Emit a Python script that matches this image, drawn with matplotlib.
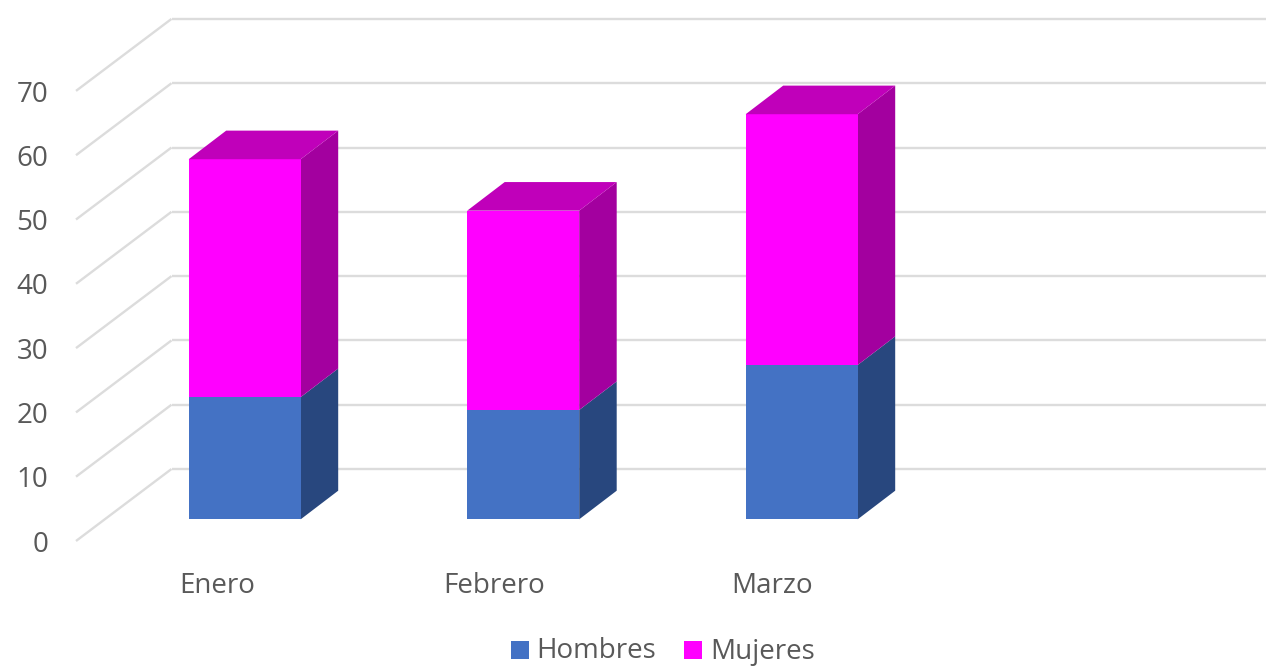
import matplotlib.pyplot as plt
from matplotlib.patches import Polygon, Rectangle

plt.rcParams['font.family'] = ['Open Sans', 'DejaVu Sans']

meses = ["Enero", "Febrero", "Marzo"]
hombres = [19, 17, 24]
mujeres = [37, 31, 39]
ticks = [0, 10, 20, 30, 40, 50, 60, 70]

fig = plt.figure(figsize=(12.66, 6.66), dpi=100)
ax = fig.add_axes([0, 0, 1, 1])

# x is in pixels, y is the value measured on the back wall
px = 6.43
ax.set_xlim(0, 1266)
ax.set_ylim(-(666 - 469)/px, 469/px)
ax.axis("off")

wall_x = 171.5
floor_dx = 95.5
floor_dy = 72/px
bar_dx = 37.5
bar_dy = 28.6/px
bar_shift = 21.7/px   # front of the bars above the floor front edge
bar_w = 112
bar_x = [188.7, 467.2, 745.7]

grid = "#dcdcdc"
text = "#595959"
fs = 20

for t in ticks:
    ax.plot([wall_x - floor_dx, wall_x], [t - floor_dy, t], color=grid, lw=1.7, solid_capstyle="butt", zorder=1)
    ax.plot([wall_x, 1266], [t, t], color=grid, lw=1.7, solid_capstyle="butt", zorder=1)
    ax.text(48, t - floor_dy - 0.57, str(t), color=text, fontsize=fs, ha="right", va="center")


def box(x, v0, v1, front, side, top=None):
    y0 = v0 - floor_dy + bar_shift
    y1 = v1 - floor_dy + bar_shift
    ax.add_patch(Rectangle((x, y0), bar_w, y1 - y0, fc=front, ec="none", zorder=3))
    ax.add_patch(Polygon([(x + bar_w, y0), (x + bar_w + bar_dx, y0 + bar_dy),
                          (x + bar_w + bar_dx, y1 + bar_dy), (x + bar_w, y1)],
                         fc=side, ec="none", zorder=2.5))
    if top:
        ax.add_patch(Polygon([(x, y1), (x + bar_dx, y1 + bar_dy),
                              (x + bar_w + bar_dx, y1 + bar_dy), (x + bar_w, y1)],
                             fc=top, ec="none", zorder=3))


for i, mes in enumerate(meses):
    box(bar_x[i], 0, hombres[i], "#4472c4", "#28477e")
    box(bar_x[i], hombres[i], hombres[i] + mujeres[i], "#ff00ff", "#a3009f", "#c000ba")
    ax.text(217 + 277.5*i, -(586 - 469)/px, mes, color=text, fontsize=fs, ha="center", va="center")

# legend
ax.add_patch(Rectangle((511, -(659 - 469)/px), 18, 18/px, fc="#4472c4", ec="none"))
ax.text(536, -(651.5 - 469)/px, "Hombres", color=text, fontsize=fs, ha="left", va="center")
ax.add_patch(Rectangle((684, -(659 - 469)/px), 18, 18/px, fc="#ff00ff", ec="none"))
ax.text(710, -(651.5 - 469)/px, "Mujeres", color=text, fontsize=fs, ha="left", va="center")

fig.savefig("out.png", dpi=100)
